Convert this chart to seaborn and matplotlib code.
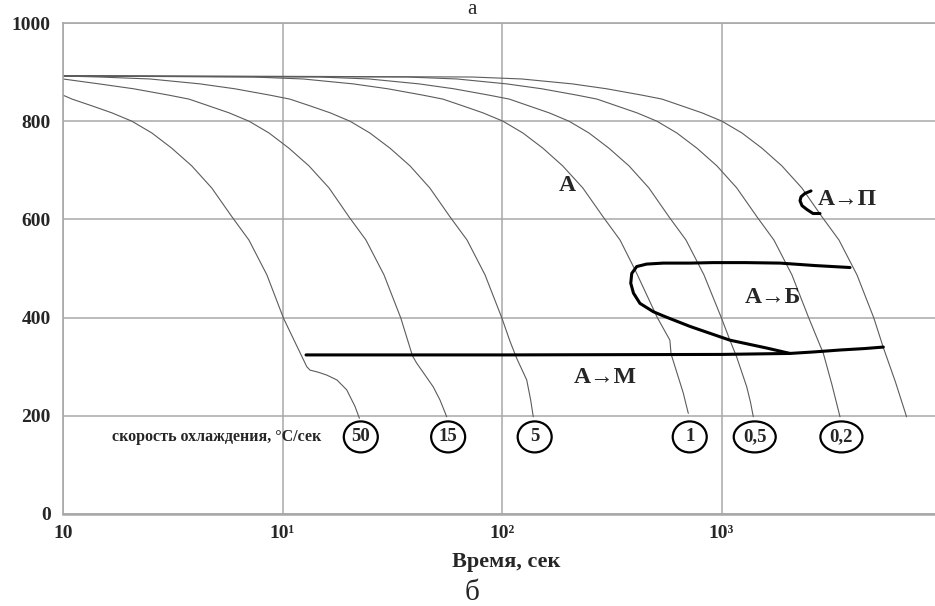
import matplotlib
matplotlib.use("Agg")
import matplotlib.pyplot as plt
import seaborn as sns
import pandas as pd
from matplotlib.ticker import NullLocator
from matplotlib.patches import Ellipse
from matplotlib.transforms import ScaledTranslation

# ---------------- data ----------------
rate_labels = ["50", "15", "5", "1", "0,5", "0,2", ""]

t50 = [1, 1.10, 1.36, 1.67, 2.06, 2.54, 3.13, 3.86, 4.76, 5.89, 7.03, 8.49, 10.1,
       11.4, 12.9, 13.35, 14.5, 15.9, 17.7, 19.6, 21.4, 22.4]
T50 = [853, 845, 831, 817, 800, 776, 745, 709, 664, 605, 558, 487, 399,
       350, 300, 293, 289, 283, 273, 253, 219, 195]

t15 = [1, 1.46, 2.10, 3.04, 3.75, 4.63, 5.71, 7.04, 8.68, 10.7, 13.2, 16.3, 20.1,
       24.0, 29.0, 34.6, 39.1, 40.9, 44.6, 48.6, 52.2, 56.0]
T15 = [886, 876, 866, 853, 845, 831, 817, 800, 776, 745, 709, 664, 605,
       558, 487, 399, 322, 307, 283, 259, 232, 198]

t5 = [1, 1.47, 2.49, 4.21, 6.07, 8.78, 10.8, 13.4, 16.5, 20.3, 25.0, 30.9, 38.1,
      46.9, 58.0, 69.3, 83.7, 99.9, 108.7, 116.7, 129.6, 135.1, 138.8]
T5 = [892, 890, 886, 876, 866, 853, 845, 831, 817, 800, 776, 745, 709,
      664, 605, 558, 487, 399, 352, 317, 273, 232, 198]

t1 = [1, 7.33, 12.4, 21.0, 30.2, 43.7, 53.8, 66.5, 81.9, 101, 124.5, 153.6, 189,
      233.5, 289, 345, 404, 510, 582, 589, 670, 687, 706]
T1 = [892, 890, 886, 876, 866, 853, 845, 831, 817, 800, 776, 745, 709,
      664, 605, 558, 497, 400, 354, 326, 246, 226, 205]

t05 = [1, 14.7, 24.8, 41.9, 60.4, 87.4, 108, 133, 164, 202, 249, 307, 379,
       467, 577, 689, 832, 1000, 1090, 1172, 1303, 1355, 1396]
T05 = [892, 890, 886, 876, 866, 853, 845, 831, 817, 800, 776, 745, 709,
       664, 605, 558, 487, 399, 355, 320, 259, 228, 198]

t02 = [1, 36.9, 62.3, 105, 152, 220, 271, 334, 412, 508, 626, 773, 953,
       1174, 1452, 1733, 2093, 2499, 2911, 3187, 3466]
T02 = [892, 890, 886, 876, 866, 853, 845, 831, 817, 800, 776, 745, 709,
       664, 605, 558, 487, 399, 327, 263, 198]

t01 = [1, 73, 123, 209, 300, 435, 536, 661, 815, 1005, 1239, 1529, 1884,
       2324, 2872, 3429, 4142, 4945, 5460, 6200, 6970]
T01 = [893, 890, 886, 876, 866, 853, 845, 831, 817, 800, 776, 745, 709,
       664, 605, 558, 487, 399, 339, 269, 198]

# bainite C-curve (A->Б)
tB = [3850, 2667, 1847, 1280, 915, 719, 543, 456, 411, 390, 386, 397, 425, 489,
      553, 719, 886, 1093, 1607, 2052]
TB = [502, 506, 511, 512, 512, 511, 511, 509, 504, 490, 470, 450, 429, 412,
      402, 382, 368, 354, 338, 327]

# martensite start line (A->M)
tM = [12.8, 100, 1000, 2050, 2620, 3470, 4500, 5460]
TM = [324, 324, 325, 327, 330, 334, 337, 340]

# pearlite start arc (A->П)
tP = [2557, 2401, 2303, 2279, 2327, 2453, 2612, 2810]
TP = [658, 653, 646, 638, 628, 620, 612, 612]

x_ticks = [1, 10, 100, 1000]
x_ticklabels = ["10", "10¹", "10²", "10³"]
y_ticks = [0, 200, 400, 600, 800, 1000]

# ---------------- build table ----------------
curves_t = [t50, t15, t5, t1, t05, t02, t01]
curves_T = [T50, T15, T5, T1, T05, T02, T01]
rows = []
for i, (tt, TT) in enumerate(zip(curves_t, curves_T)):
    for a, b in zip(tt, TT):
        rows.append({"t": a, "T": b, "curve": i})
df = pd.DataFrame(rows)

# ---------------- figure ----------------
sns.set_style("white")
serif = ["Liberation Serif", "DejaVu Serif"]
plt.rcParams["font.family"] = serif

fig = plt.figure(figsize=(9.35, 6.06), dpi=100)
W, H = 935, 606
ax = fig.add_axes([63 / W, 92 / H, (W - 63) / W, 491 / H])

ax.set_xscale("log")
ax.set_xlim(1, 10 ** ((W - 63) / 219.5))
ax.set_ylim(0, 1000)

grid_c = "#a8a8a8"
ax.set_xticks(x_ticks)
ax.set_xticklabels(x_ticklabels)
ax.xaxis.set_minor_locator(NullLocator())
ax.set_yticks(y_ticks)
ax.grid(True, color=grid_c, lw=1.1)
ax.set_axisbelow(True)
for s in ["top", "left", "bottom"]:
    ax.spines[s].set_color(grid_c)
    ax.spines[s].set_linewidth(1.2)
ax.spines["bottom"].set_linewidth(1.8)
ax.spines["right"].set_visible(False)
ax.tick_params(axis="y", length=7, width=1.0, color=grid_c, pad=2, labelsize=14)
ax.tick_params(axis="x", length=0, pad=8, labelsize=14)
for lab in ax.get_xticklabels() + ax.get_yticklabels():
    lab.set_fontweight("bold")

# cooling curves
sns.lineplot(data=df, x="t", y="T", units="curve", estimator=None, sort=False,
             color="#5c5c5c", lw=0.8, ax=ax, legend=False)

# transformation lines
for xs, ys in [(tB, TB), (tM, TM), (tP, TP)]:
    sns.lineplot(x=xs, y=ys, sort=False, estimator=None, color="black", lw=2.2,
                 ax=ax)

ax.set_xlabel("Время, сек", fontsize=16, fontweight="bold")
ax.set_ylabel("")
ax.xaxis.label.set_va("center")
ax.xaxis.set_label_coords(0.508, -0.098)

bold = dict(fontweight="bold", family=serif)
ax.text(198, 670, "A", fontsize=17, ha="center", va="center", **bold)
ax.text(3730, 640, "A→П", fontsize=17, ha="center", va="center", **bold)
ax.text(1718, 440, "A→Б", fontsize=17, ha="center", va="center", **bold)
ax.text(295, 277, "A→M", fontsize=17, ha="center", va="center", **bold)
ax.text(5.03, 157, "скорость охлаждения, °С/сек", fontsize=11.5, ha="center",
        va="center", **bold)

for tt, lab in zip(curves_t, rate_labels):
    if not lab:
        continue
    xc = tt[-1] * 1.015
    ax.text(xc, 157, lab, fontsize=13.5, ha="center", va="center", **bold)
    w_in = 0.42 if len(lab) > 2 else 0.34
    tr = fig.dpi_scale_trans + ScaledTranslation(xc, 157, ax.transData)
    ax.add_patch(Ellipse((0, 0), w_in, 0.31, transform=tr, fill=False,
                         ec="black", lw=1.6, clip_on=False))

fig.text(472 / W, 1.0, "а", fontsize=15, ha="center", va="top", family=serif)
fig.text(472 / W, 0.0, "б", fontsize=21, ha="center", va="bottom", family=serif)

fig.savefig("out.png", dpi=100, facecolor="white")
